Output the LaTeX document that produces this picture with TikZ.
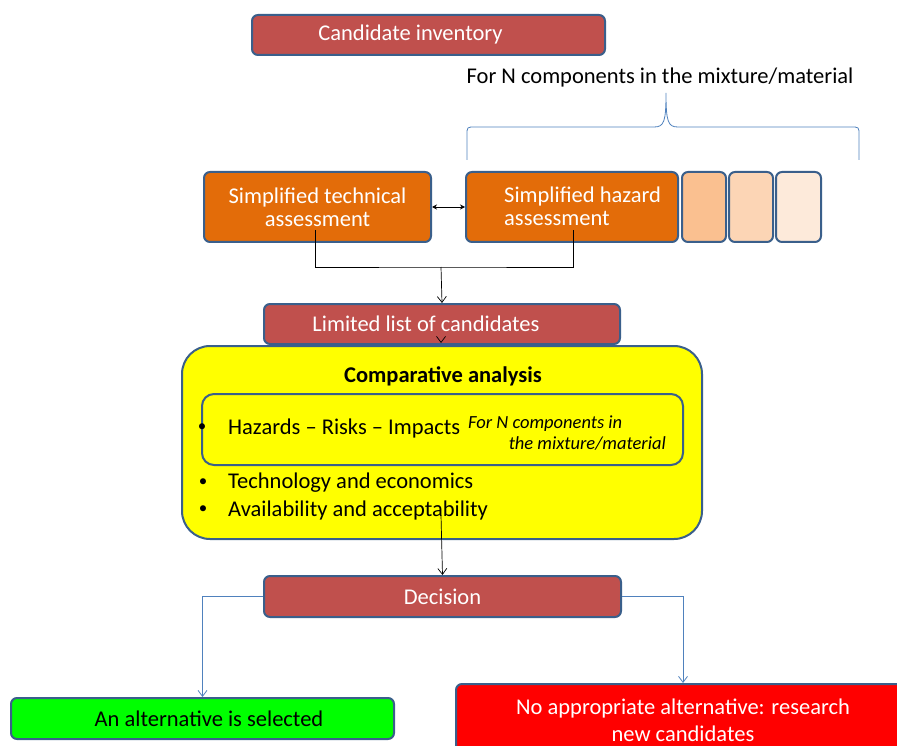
\documentclass[tikz,border=0pt]{standalone}
\usepackage{fontspec}
\setmainfont{Carlito}
\usetikzlibrary{arrows.meta}
\definecolor{bdr}{HTML}{3A5F8B}
\definecolor{redbox}{HTML}{C0504D}
\definecolor{orng}{HTML}{E36C09}
\definecolor{peach1}{HTML}{FAC090}
\definecolor{peach2}{HTML}{FCD5B5}
\definecolor{peach3}{HTML}{FDEADA}
\definecolor{lblue}{HTML}{4F81BD}
\definecolor{ygreen}{HTML}{00FF00}
\definecolor{yfill}{HTML}{FFFF00}
\begin{document}
\begin{tikzpicture}[x=1pt,y=-1pt,
  box/.style={draw=bdr, line width=2pt, rounded corners=6pt, inner sep=0pt, anchor=north west, align=center},
  big/.style={font=\fontsize{22.5}{23}\selectfont},
  bul/.style={font=\fontsize{17}{17}\selectfont, inner sep=0pt},
  ital/.style={font=\fontsize{18.5}{18}\selectfont\itshape},
  arr/.style={-{Straight Barb[length=6pt,width=9pt]}, line width=0.7pt},
  blarr/.style={draw=lblue, -{Straight Barb[length=6pt,width=9pt]}, line width=0.8pt},
  brace/.style={draw=lblue, line width=0.8pt}]
\useasboundingbox (0,0) rectangle (897,746);

% top box
\node[box, big, fill=redbox, text=white, minimum width=353pt, minimum height=40pt] (inv) at (251,14) {Candidate inventory\hspace{36pt}};

% brace label
\node[big, inner sep=0pt] (forn) at (660,78) {For N components in the mixture/material};
\draw[brace] (467,160) -- (467,135) .. controls (467,127) .. (475,127) -- (654,127)
  .. controls (664,127) and (666,122) .. (666,93)
  .. controls (666,122) and (668,127) .. (678,127) -- (851,127)
  .. controls (859,127) .. (859,135) -- (859,160);

% assessment boxes
\node[box, big, fill=orng, text=white, minimum width=227pt, minimum height=70pt] (tech) at (203,171) {Simplified technical\\assessment};
\node[box, fill=orng, minimum width=212pt, minimum height=70pt] (haz) at (465,171) {};
\node[big, text=white, anchor=west, align=left, inner sep=0pt] (hazt) at (504,206) {Simplified hazard\\assessment};
\node[box, fill=peach1, minimum width=44pt, minimum height=70pt] (p1) at (681,171) {};
\node[box, fill=peach2, minimum width=44pt, minimum height=70pt] (p2) at (728,171) {};
\node[box, fill=peach3, minimum width=45pt, minimum height=70pt] (p3) at (775,171) {};
\draw[{Stealth[length=5pt,width=5pt]}-{Stealth[length=5pt,width=5pt]}, line width=0.8pt] (tech.east) -- (haz.west);

% join lines
\coordinate (t1) at (315,230);
\coordinate (h1) at (573,230);
\coordinate (hm) at (441,267);
\draw[line width=0.7pt] (t1) |- (hm) -| (h1);

% limited list
\node[box, big, fill=redbox, text=white, minimum width=356pt, minimum height=40pt] (lim) at (263,303) {Limited list of candidates\hspace{32pt}};
\draw[arr] (hm) -- (lim.north);

% comparative analysis
\node[box, fill=yfill, rounded corners=28pt, minimum width=520pt, minimum height=193pt] (cmp) at (181,345) {};
\coordinate (ltop) at (441,334);
\coordinate (ltip) at (441,343);
\draw[draw=redbox, line width=0.7pt, -{Straight Barb[length=6pt,width=9pt,color=black]}] (ltop) -- (ltip);
\node[big, font=\fontsize{22.5}{23}\selectfont\bfseries, inner sep=0pt] (cmpt) at (443,376) {Comparative analysis};
\node[box, fill=yfill, rounded corners=12pt, minimum width=481pt, minimum height=71pt] (inner) at (201,393) {};
\node[bul] (b1) at (202,428) {•};
\node[big, anchor=west, inner sep=0pt] (h1t) at (228,428) {Hazards – Risks – Impacts};
\node[ital, anchor=west, inner sep=0pt] (it1) at (468,424) {For N components in};
\node[ital, anchor=east, inner sep=0pt] (it2) at (666,443) {the mixture/material};
\node[bul] (b2) at (203,483) {•};
\node[big, anchor=west, inner sep=0pt] (tt) at (228,483) {Technology and economics};
\node[bul] (b3) at (203,510) {•};
\node[big, anchor=west, inner sep=0pt] (at) at (228,510) {Availability and acceptability};

% decision
\coordinate (c1) at (441,515);
\node[box, big, fill=redbox, text=white, minimum width=357pt, minimum height=41pt] (dec) at (263,575) {Decision};
\draw[arr] (c1) -- (dec.north);

% outcomes
\node[box, big, fill=ygreen, text=black, minimum width=383pt, minimum height=41pt] (green) at (10,697) {\hspace*{13pt}An alternative is selected};
\node[box, fill=red, text=white, minimum width=454pt, minimum height=73pt, font=\fontsize{22.5}{27}\selectfont] (redb) at (455,683) {No appropriate alternative: research\\new candidates};
\draw[blarr] (dec.west) -| (green.north);
\draw[blarr] (dec.east) -| (redb.north);
\end{tikzpicture}
\end{document}
